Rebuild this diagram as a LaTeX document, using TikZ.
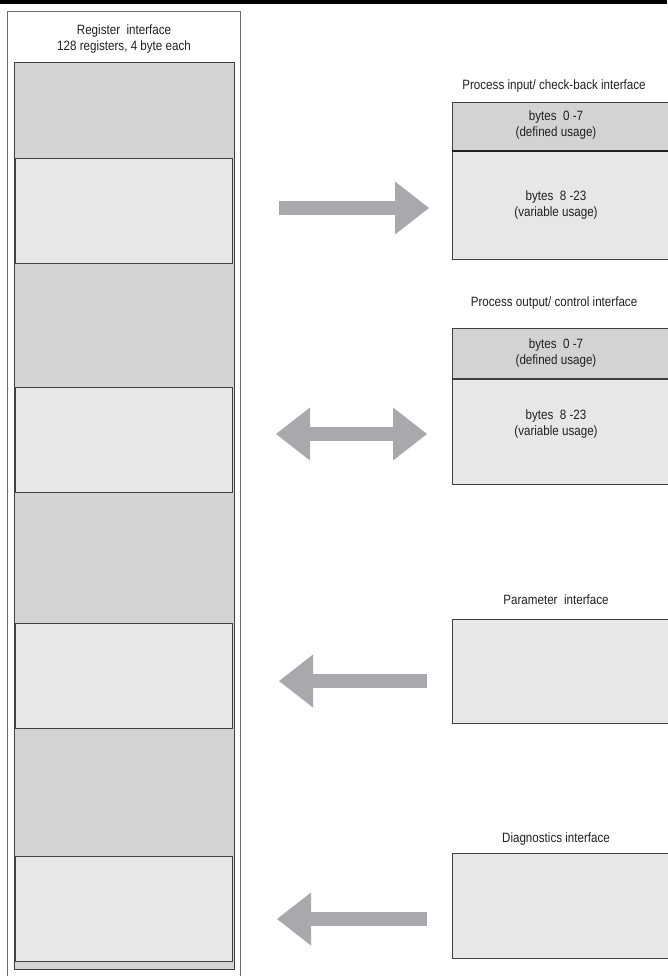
\documentclass[tikz,border=0pt]{standalone}
\usepackage{fontspec}
\setmainfont{Liberation Sans}[FakeStretch=0.86]
\usetikzlibrary{arrows.meta}
\definecolor{colgray}{HTML}{D1D3D4}
\definecolor{boxlight}{HTML}{E6E7E8}
\definecolor{arrowgray}{HTML}{A7A9AC}
\definecolor{framegray}{HTML}{6D6E71}
\definecolor{linedark}{HTML}{414042}
\definecolor{txt}{HTML}{231F20}
\begin{document}
\begin{tikzpicture}[x=1pt,y=-1pt,
  every node/.style={inner sep=0pt, outer sep=0pt, font=\fontsize{13.5}{16}\selectfont, text=txt},
  regframe/.style={draw=framegray, line width=1pt, anchor=north west},
  column/.style={fill=colgray, draw=linedark, line width=0.8pt, anchor=north west},
  slot/.style={fill=boxlight, draw=linedark, line width=0.9pt, anchor=north west, minimum width=217pt, minimum height=105pt},
  fixedpart/.style={fill=colgray, draw=linedark, line width=0.9pt, anchor=north west, minimum width=216pt},
  varpart/.style={fill=boxlight, draw=linedark, line width=0.9pt, anchor=north west, minimum width=216pt},
  divider/.style={draw=txt, line width=1.6pt},
  lbl/.style={align=center},
  bigarrow/.style={draw=arrowgray, fill=arrowgray, line width=13.5pt},
  tip/.tip={Triangle[width=53pt,length=34pt,line width=0pt]}
]
\useasboundingbox (0,0) rectangle (667,976);
% top rule
\draw[line width=4pt, black] (0,2) -- (667,2);

% register interface
\node[regframe, minimum width=232.5pt, minimum height=975pt] (reg) at (7.5,12) {};
\node[lbl] (regtitle) at (124,39.5) {Register\ \ interface\\128 registers, 4 byte each};
\node[column, minimum width=220pt, minimum height=907pt] (col) at (14,62) {};
\node[slot] (r1) at (15.5,158) {};
\node[slot] (r2) at (15.5,387) {};
\node[slot] (r3) at (15.5,623) {};
\node[slot] (r4) at (15.5,856) {};

% process input
\node[lbl] (pinlbl) at (554,86) {Process input/ check-back interface};
\node[fixedpart, minimum height=49pt] (pintop) at (452,102) {};
\node[varpart, minimum height=108pt] (pinbot) at (452,151) {};
\draw[divider] (pinbot.north west) -- (pinbot.north east);
\node[lbl] at (556,125.5) {bytes\ \ 0 -7\\(defined usage)};
\node[lbl] at (556,205.5) {bytes\ \ 8 -23\\(variable usage)};

% process output
\node[lbl] (poutlbl) at (554,303) {Process output/ control interface};
\node[fixedpart, minimum height=51pt] (pouttop) at (452,328) {};
\node[varpart, minimum height=105pt] (poutbot) at (452,379) {};
\draw[linedark, line width=1.2pt] (poutbot.north west) -- (poutbot.north east);
\node[lbl] at (556,353) {bytes\ \ 0 -7\\(defined usage)};
\node[lbl] at (556,424) {bytes\ \ 8 -23\\(variable usage)};

% parameter
\node[lbl] (parlbl) at (556,600) {Parameter\ \ interface};
\node[varpart, minimum height=104pt] (par) at (452,619) {};

% diagnostics
\node[lbl] (diaglbl) at (556,839) {Diagnostics interface};
\node[varpart, minimum height=105pt] (diag) at (452,853) {};

% arrows
\coordinate (a1s) at (279,208);
\coordinate (a1e) at (429,208);
\coordinate (a2s) at (276,434);
\coordinate (a2e) at (427,434);
\coordinate (a3s) at (427,681);
\coordinate (a3e) at (279,681);
\coordinate (a4s) at (427,919);
\coordinate (a4e) at (277,919);
\draw[bigarrow, -{tip}] (a1s) -- (a1e);
\draw[bigarrow, {tip}-{tip}] (a2s) -- (a2e);
\draw[bigarrow, -{tip}] (a3s) -- (a3e);
\draw[bigarrow, -{tip}] (a4s) -- (a4e);
\end{tikzpicture}
\end{document}
